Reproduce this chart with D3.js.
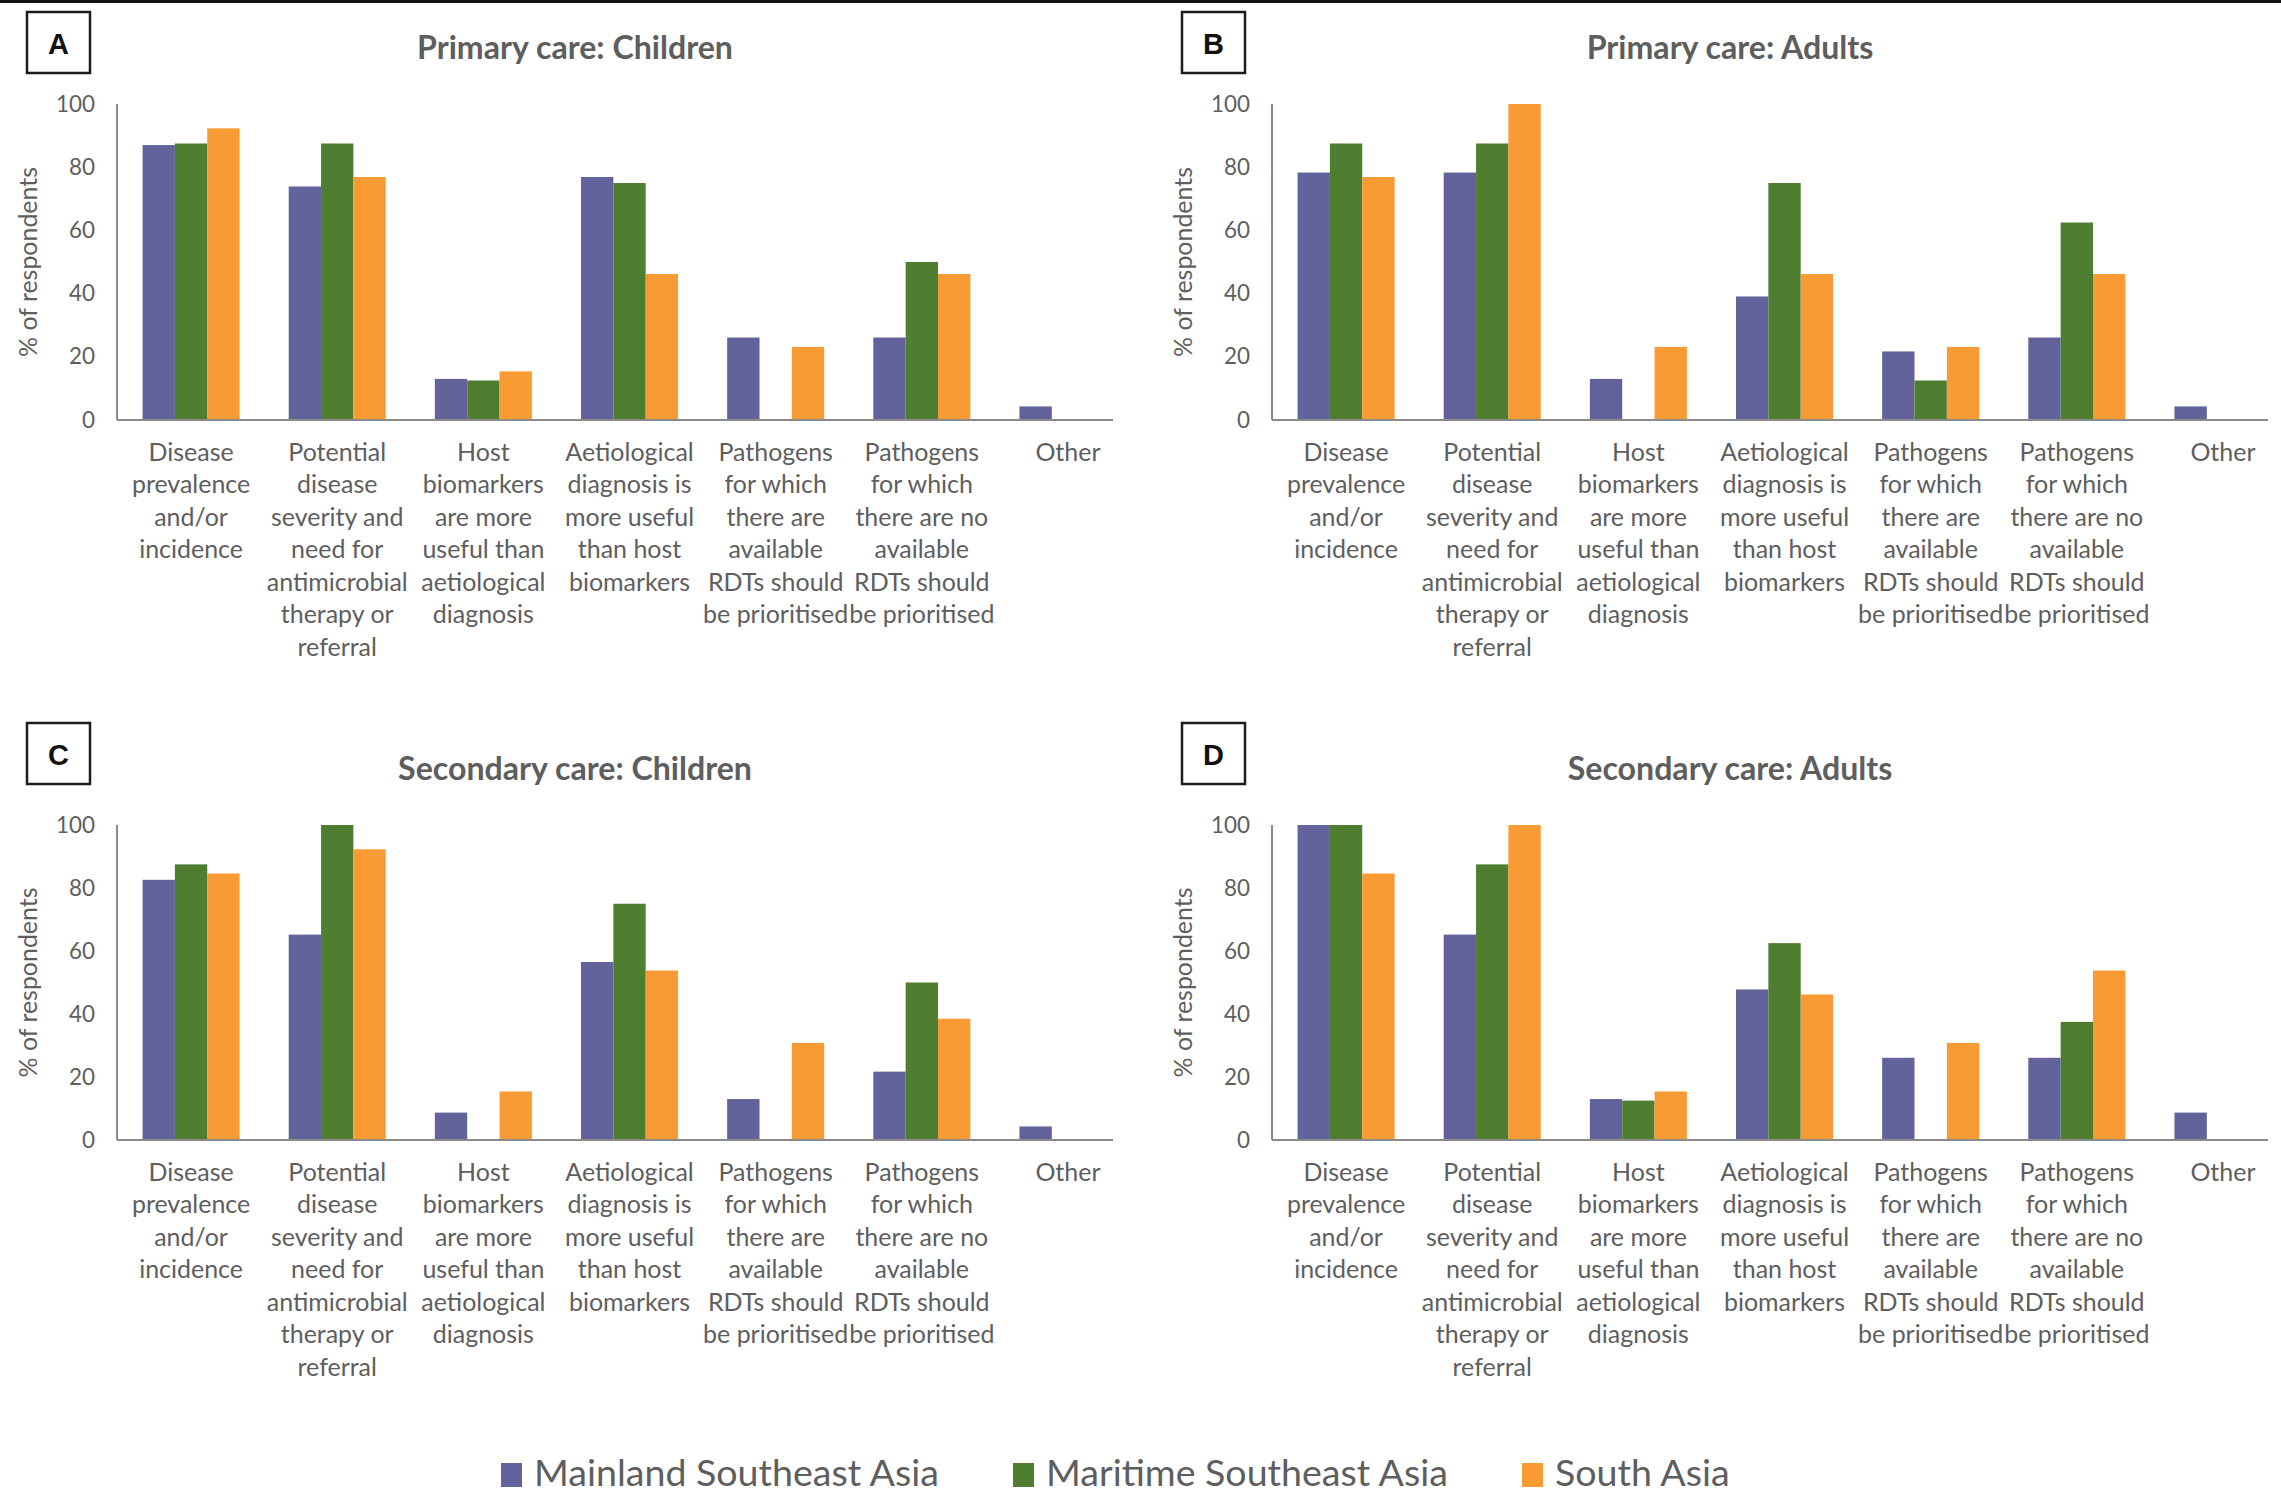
<!DOCTYPE html>
<html>
<head>
<meta charset="utf-8">
<script src="https://cdn.jsdelivr.net/npm/d3@7"></script>
<style>
  html, body { margin: 0; padding: 0; background: #fff; }
  svg { display: block; }
</style>
</head>
<body>
<svg id="chart" width="2281" height="1496"></svg>
<script>
// ---------- DATA ----------
const categories = [
  ["Disease", "prevalence", "and/or", "incidence"],
  ["Potential", "disease", "severity and", "need for", "antimicrobial", "therapy or", "referral"],
  ["Host", "biomarkers", "are more", "useful than", "aetiological", "diagnosis"],
  ["Aetiological", "diagnosis is", "more useful", "than host", "biomarkers"],
  ["Pathogens", "for which", "there are", "available", "RDTs should", "be prioritised"],
  ["Pathogens", "for which", "there are no", "available", "RDTs should", "be prioritised"],
  ["Other"]
];
const seriesNames = ["Mainland Southeast Asia", "Maritime Southeast Asia", "South Asia"];
const panelLetters = ["A", "B", "C", "D"];
const panelTitles = ["Primary care: Children", "Primary care: Adults", "Secondary care: Children", "Secondary care: Adults"];
const yTicks = [0, 20, 40, 60, 80, 100];
const yAxisTitle = "% of respondents";

// Panel A: Primary care, children
const mainlandA = [87.0, 73.9, 13.0, 76.9, 26.1, 26.1, 4.3];
const maritimeA = [87.5, 87.5, 12.5, 75.0, 0, 50.0, 0];
const southA    = [92.3, 76.9, 15.4, 46.2, 23.1, 46.2, 0];
// Panel B: Primary care, adults
const mainlandB = [78.3, 78.3, 13.0, 39.1, 21.7, 26.1, 4.3];
const maritimeB = [87.5, 87.5, 0, 75.0, 12.5, 62.5, 0];
const southB    = [76.9, 100, 23.1, 46.2, 23.1, 46.2, 0];
// Panel C: Secondary care, children
const mainlandC = [82.6, 65.2, 8.7, 56.5, 13.0, 21.7, 4.3];
const maritimeC = [87.5, 100, 0, 75.0, 0, 50.0, 0];
const southC    = [84.6, 92.3, 15.4, 53.8, 30.8, 38.5, 0];
// Panel D: Secondary care, adults
const mainlandD = [100, 65.2, 13.0, 47.8, 26.1, 26.1, 8.7];
const maritimeD = [100, 87.5, 12.5, 62.5, 0, 37.5, 0];
const southD    = [84.6, 100, 15.4, 46.2, 30.8, 53.8, 0];

const panelValues = [
  [mainlandA, maritimeA, southA],
  [mainlandB, maritimeB, southB],
  [mainlandC, maritimeC, southC],
  [mainlandD, maritimeD, southD]
];

// ---------- STYLE / LAYOUT ----------
const colors = ["#63639b", "#507e31", "#f99b35"];
const textGray = "#5e5e5e";
const axisGray = "#8a8a8a";
const FONT = "Lato, 'Open Sans', sans-serif";

const svg = d3.select("#chart");

// measure helper to emulate the narrow Calibri metrics
const measurer = svg.append("text").attr("x", -1000).attr("y", -1000).style("font-family", FONT);
function fitSize(str, target, weight) {
  measurer.style("font-size", "100px").style("font-weight", weight || "normal").text(str);
  const w = measurer.node().getComputedTextLength();
  return 100 * target / w;
}
const catSize = fitSize("antimicrobial", 141, "normal");
const tickSize = fitSize("100", 39, "normal");
const titleSize = fitSize("Primary care: Children", 316, "bold");
const yTitleSize = fitSize(yAxisTitle, 190, "normal");
const legendSize = fitSize("Mainland Southeast Asia", 405, "normal");
measurer.remove();

// top border line
svg.append("rect").attr("x", 0).attr("y", 0).attr("width", 2281).attr("height", 3).attr("fill", "#111");

const panels = [
  { ax: 118, y0: 420, y100: 104 },
  { ax: 1273, y0: 420, y100: 104 },
  { ax: 118, y0: 1140, y100: 825 },
  { ax: 1273, y0: 1140, y100: 825 }
];
const step = 146.15;
const axisLen = 995;

panels.forEach((p, pi) => {
  const g = svg.append("g");
  const x0 = d3.scaleBand()
    .domain(d3.range(categories.length))
    .range([p.ax, p.ax + step * categories.length])
    .paddingInner(0.336)
    .paddingOuter(0.168);
  const x1 = d3.scaleBand().domain(d3.range(seriesNames.length)).range([0, x0.bandwidth()]);
  const y = d3.scaleLinear().domain([0, 100]).range([p.y0, p.y100]);

  // panel letter box
  const bx = p.ax - 91, by = (pi < 2 ? 12 : 723);
  g.append("rect").attr("x", bx).attr("y", by).attr("width", 63).attr("height", 61)
    .attr("fill", "#fff").attr("stroke", "#1c1c1c").attr("stroke-width", 2.5);
  g.append("text").attr("x", bx + 31.5).attr("y", by + 42)
    .attr("text-anchor", "middle")
    .style("font-family", "'Liberation Sans', Arial, sans-serif").style("font-weight", "bold")
    .style("font-size", "29px").attr("fill", "#111").text(panelLetters[pi]);

  // title
  g.append("text").attr("x", p.ax + 457).attr("y", pi < 2 ? 59 : 780)
    .attr("text-anchor", "middle").style("font-family", FONT).style("font-weight", "bold")
    .style("font-size", titleSize + "px").attr("fill", textGray).text(panelTitles[pi]);

  // bars
  const vals = panelValues[pi];
  const groups = g.selectAll("g.grp").data(categories.map((c, i) => i)).enter().append("g")
    .attr("transform", i => `translate(${x0(i)},0)`);
  groups.selectAll("rect").data(i => vals.map((s, si) => ({ si, v: s[i] })).filter(d => d.v > 0))
    .enter().append("rect")
    .attr("x", d => x1(d.si))
    .attr("width", x1.bandwidth())
    .attr("y", d => y(d.v))
    .attr("height", d => y(0) - y(d.v))
    .attr("fill", d => colors[d.si]);

  // y axis (no tick marks)
  const yAxis = d3.axisLeft(y).tickValues(yTicks).tickSize(0).tickPadding(22);
  const ya = g.append("g").attr("transform", `translate(${p.ax - 1},0)`).call(yAxis);
  ya.select(".domain").attr("stroke", axisGray).attr("stroke-width", 2).attr("d", `M0,${p.y100}V${p.y0}`);
  ya.selectAll("text").style("font-family", FONT).style("font-size", tickSize + "px").attr("fill", textGray);

  // x axis line
  g.append("line").attr("x1", p.ax - 1).attr("x2", p.ax + axisLen).attr("y1", p.y0).attr("y2", p.y0)
    .attr("stroke", axisGray).attr("stroke-width", 2);

  // category labels
  categories.forEach((lines, i) => {
    const cx = x0(i) + x0.bandwidth() / 2;
    const t = g.append("text").attr("text-anchor", "middle")
      .style("font-family", FONT).style("font-size", catSize + "px").attr("fill", textGray);
    lines.forEach((ln, li) => {
      t.append("tspan").attr("x", cx).attr("y", p.y0 + 32 + li * 32.5).attr("dy", "0.35em").text(ln);
    });
  });

  // y axis title
  const ty = (p.y0 + p.y100) / 2;
  g.append("text").attr("transform", `translate(${p.ax - 90},${ty}) rotate(-90)`)
    .attr("text-anchor", "middle").attr("dy", "0.35em")
    .style("font-family", FONT).style("font-size", yTitleSize + "px").attr("fill", textGray)
    .text(yAxisTitle);
});

// legend
const legendX = [501, 1013, 1522];
const leg = svg.append("g");
seriesNames.forEach((s, i) => {
  leg.append("rect").attr("x", legendX[i]).attr("y", 1463).attr("width", 21).attr("height", 24).attr("fill", colors[i]);
  leg.append("text").attr("x", legendX[i] + 33).attr("y", 1486)
    .style("font-family", FONT).style("font-size", legendSize + "px").attr("fill", textGray).text(s);
});
</script>
</body>
</html>
